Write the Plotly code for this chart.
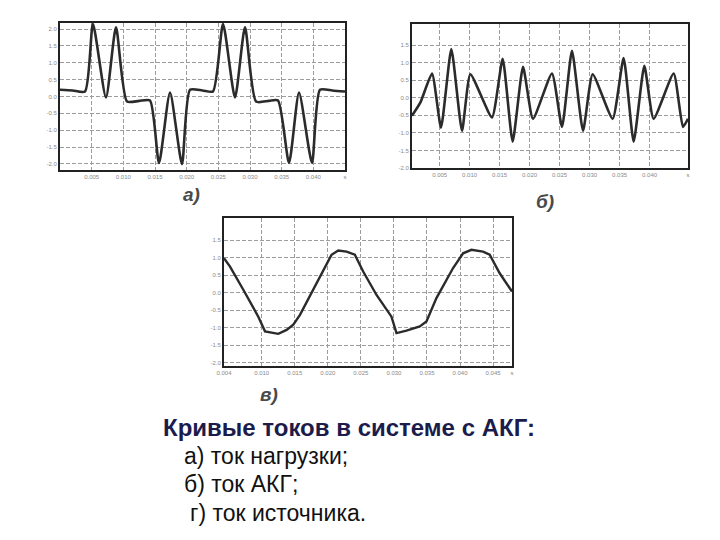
import plotly.graph_objects as go

# ---- data ----
# a) load current
t_a = [0.0, 0.0020, 0.00395, 0.0052, 0.00726, 0.00884, 0.01058, 0.0125, 0.01421,
       0.01563, 0.01737, 0.01926, 0.02053, 0.0225, 0.02416, 0.02574, 0.02763,
       0.02921, 0.03095, 0.0330, 0.03442, 0.03616, 0.03774, 0.03979, 0.04105,
       0.0430, 0.045]
i_a = [0.2, 0.18, 0.15, 2.15, -0.03, 2.05, -0.15, -0.13, -0.12,
       -1.97, 0.12, -2.0, 0.2, 0.18, 0.15, 2.15, -0.03,
       2.05, -0.15, -0.13, -0.12, -1.97, 0.12, -1.97, 0.2,
       0.18, 0.15]

# б) AKG current
t_b = [0.000395, 0.00178, 0.00373, 0.00523, 0.00695, 0.00873, 0.01012, 0.01373,
       0.01551, 0.01717, 0.01890, 0.02056, 0.02373, 0.02540, 0.02706, 0.02890,
       0.03051, 0.03384, 0.03567, 0.03734, 0.03912, 0.04067, 0.04401, 0.04556,
       0.04640]
i_b = [-0.51, -0.14, 0.69, -0.85, 1.39, -0.94, 0.67, -0.56,
       1.11, -1.25, 0.88, -0.6, 0.69, -0.83, 1.34, -0.94,
       0.67, -0.6, 1.13, -1.25, 0.91, -0.6, 0.69, -0.83,
       -0.6]

# в) source current
t_c = [0.00430, 0.00521, 0.00722, 0.00949, 0.01050, 0.01151, 0.01251, 0.01377,
       0.01478, 0.01579, 0.01780, 0.01931, 0.02057, 0.02158, 0.02284, 0.02409,
       0.02535, 0.02737, 0.02963, 0.03039, 0.03190, 0.03391, 0.03492, 0.03643,
       0.03895, 0.04046, 0.04172, 0.04348, 0.04449, 0.04600, 0.04786]
i_c = [0.98, 0.74, 0.08, -0.69, -1.11, -1.14, -1.18, -1.07,
       -0.92, -0.64, 0.08, 0.65, 1.08, 1.2, 1.17, 1.08,
       0.6, -0.07, -0.69, -1.16, -1.09, -0.97, -0.83, -0.16,
       0.7, 1.12, 1.22, 1.17, 1.08, 0.55, 0.03]

xt_a = [0.005, 0.010, 0.015, 0.020, 0.025, 0.030, 0.035, 0.040, 0.045]
xl_a = ["0.005", "0.010", "0.015", "0.020", "0.025", "0.030", "0.035", "0.040", "s"]
yt_a = [2.0, 1.5, 1.0, 0.5, 0.0, -0.5, -1.0, -1.5, -2.0]
yl_a = ["2.0", "1.5", "1.0", "0.5", "0.0", "-0.5", "-1.0", "-1.5", "-2.0"]

xt_b = [0.005, 0.010, 0.015, 0.020, 0.025, 0.030, 0.035, 0.040, 0.0464]
xl_b = ["0.005", "0.010", "0.015", "0.020", "0.025", "0.030", "0.035", "0.040", "s"]
yt_b = [1.5, 1.0, 0.5, 0.0, -0.5, -1.0, -1.5, -2.0]
yl_b = ["1.5", "1.0", "0.5", "0.0", "-0.5", "-1.0", "-1.5", "-2.0"]

xt_c = [0.0043, 0.010, 0.015, 0.020, 0.025, 0.030, 0.035, 0.040, 0.045, 0.04786]
xl_c = ["0.004", "0.010", "0.015", "0.020", "0.025", "0.030", "0.035", "0.040", "0.045", "s"]
yt_c = [1.5, 1.0, 0.5, 0.0, -0.5, -1.0, -1.5, -2.0]
yl_c = ["1.5", "1.0", "0.5", "0.0", "-0.5", "-1.0", "-1.5", "-2.0"]

caption_title = "Кривые токов в системе с АКГ:"
caption_lines = ["а) ток нагрузки;", "б) ток АКГ;", "г) ток источника."]
panel_labels = ["а)", "б)", "в)"]

W, H = 720, 540
LINE = "#2b2b2b"

fig = go.Figure()
fig.add_trace(go.Scatter(x=t_a, y=i_a, mode="lines", xaxis="x", yaxis="y",
                         line=dict(color=LINE, width=2.6, shape="spline", smoothing=0.6)))
fig.add_trace(go.Scatter(x=t_b, y=i_b, mode="lines", xaxis="x2", yaxis="y2",
                         line=dict(color=LINE, width=2.6, shape="spline", smoothing=0.5)))
fig.add_trace(go.Scatter(x=t_c, y=i_c, mode="lines", xaxis="x3", yaxis="y3",
                         line=dict(color=LINE, width=2.4)))

def px(x):
    return x / W

def py(y):
    return 1 - y / H

tickfont = dict(family="Liberation Sans", size=6, color="#8a8a8a")
GRID = dict(showgrid=True, gridcolor="#9c9c9c", griddash="4px,2px", gridwidth=1,
            showline=True, linecolor="#222", linewidth=2, mirror=True,
            zeroline=False, ticks="", tickfont=tickfont, fixedrange=True,
            automargin=False)

def xax(dom, anchor, rng, tv, tl):
    return dict(domain=[px(dom[0]), px(dom[1])], anchor=anchor, range=rng,
                tickvals=tv, ticktext=tl, **GRID)

def yax(dom, anchor, rng, tv, tl):
    return dict(domain=[py(dom[1]), py(dom[0])], anchor=anchor, range=rng,
                tickvals=tv, ticktext=tl, **GRID)

fig.update_layout(
    width=W, height=H, margin=dict(l=0, r=0, t=0, b=0, pad=0),
    paper_bgcolor="white", plot_bgcolor="white", showlegend=False,
    xaxis=xax((60, 345), "y", [0, 0.045], xt_a, xl_a),
    yaxis=yax((23, 170), "x", [-2.18, 2.18], yt_a, yl_a),
    xaxis2=xax((412, 688), "y2", [0.000395, 0.0464], xt_b, xl_b),
    yaxis2=yax((24, 168), "x2", [-2.0, 2.1], yt_b, yl_b),
    xaxis3=xax((224, 512), "y3", [0.0043, 0.04786], xt_c, xl_c),
    yaxis3=yax((218, 366), "x3", [-2.1, 2.13], yt_c, yl_c),
)

label_pos = [(191, 194), (545, 201), (269, 394)]
for txt, (x, y) in zip(panel_labels, label_pos):
    fig.add_annotation(x=px(x), y=py(y), xref="paper", yref="paper", text="<b><i>" + txt + "</i></b>",
                       showarrow=False, xanchor="center", yanchor="middle",
                       font=dict(family="Liberation Sans", size=19, color="#4a4a4a"))

fig.add_annotation(x=px(161), y=py(427), xref="paper", yref="paper", text="<b>" + caption_title + "</b>",
                   showarrow=False, xanchor="left", yanchor="middle",
                   font=dict(family="Liberation Sans", size=24, color="#1c1c4c"))
line_pos = [(182, 456), (182, 484), (188, 513)]
for txt, (x, y) in zip(caption_lines, line_pos):
    fig.add_annotation(x=px(x), y=py(y), xref="paper", yref="paper", text=txt,
                       showarrow=False, xanchor="left", yanchor="middle",
                       font=dict(family="Liberation Sans", size=23, color="#111111"))

fig.write_html("out.html", config={"displayModeBar": False},
               post_script="document.body.style.margin='0';document.body.style.overflow='hidden';")
